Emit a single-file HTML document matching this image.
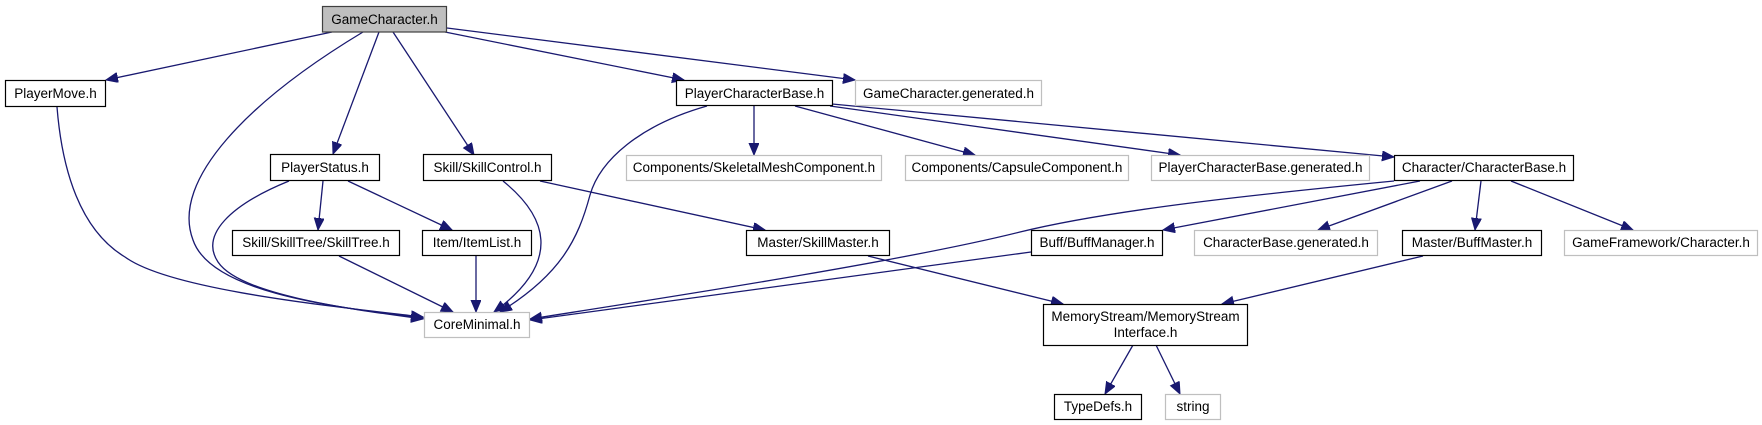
<!DOCTYPE html>
<html><head><meta charset="utf-8"><style>
html,body{margin:0;padding:0;background:#fff}
svg{display:block}
text{font-family:"Liberation Sans",Arial,sans-serif;font-size:13.5px;fill:#000;text-anchor:middle}
.e{fill:none;stroke:#191970;stroke-width:1.3}
.n{fill:#fff;stroke:#000;stroke-width:1.2}
.g{fill:#fff;stroke:#bfbfbf;stroke-width:1.2}
</style></head><body>
<svg width="1762" height="425" viewBox="0 0 1762 425" xmlns="http://www.w3.org/2000/svg">
<defs>
<marker id="a" markerUnits="userSpaceOnUse" markerWidth="14" markerHeight="12" refX="12" refY="5" orient="auto">
<path d="M0,0 L12,5 L0,10 z" fill="#191970" stroke="#191970"/>
</marker>
</defs>
<g marker-end="url(#a)">
<path class="e" d="M332,32 L106,80"/>
<path class="e" d="M363,32 C250,100 170,180 193,240 C210,290 320,306 423,318"/>
<path class="e" d="M57,107 C62,170 80,230 125,257 C170,290 330,306 423,317"/>
<path class="e" d="M379,32 L333,154"/>
<path class="e" d="M393,32 L474,155"/>
<path class="e" d="M445,32 L684,80"/>
<path class="e" d="M447,28 L855,80"/>
<path class="e" d="M289,181 C230,205 200,235 218,262 C240,295 350,309 423,319"/>
<path class="e" d="M323,181 L318,230"/>
<path class="e" d="M348,181 L452,230"/>
<path class="e" d="M339,256 L453,312"/>
<path class="e" d="M476,256 L476,312"/>
<path class="e" d="M503,181 C545,215 565,260 494,312"/>
<path class="e" d="M540,181 L765,230"/>
<path class="e" d="M707,106 C640,125 600,160 590,195 C578,240 560,275 500,312"/>
<path class="e" d="M754,106 L754,155"/>
<path class="e" d="M795,106 L975,155"/>
<path class="e" d="M830,106 L1180,155"/>
<path class="e" d="M832,104 L1394,157"/>
<path class="e" d="M1394,181 C1250,195 1110,210 1020,232 C900,262 650,300 530,319"/>
<path class="e" d="M1420,181 L1163,230"/>
<path class="e" d="M1031,252 L530,320"/>
<path class="e" d="M1452,181 L1318,230"/>
<path class="e" d="M1481,181 L1475,230"/>
<path class="e" d="M1511,181 L1633,230"/>
<path class="e" d="M868,256 L1063,304"/>
<path class="e" d="M1423,256 L1222,304"/>
<path class="e" d="M1133,345 L1105,394"/>
<path class="e" d="M1156,345 L1180,394"/>
</g>
<rect x="322.5" y="6.5" width="124" height="25.5" fill="#bfbfbf" stroke="#404040" stroke-width="1.2"/><text x="384.5" y="24">GameCharacter.h</text>
<rect class="n" x="5.5" y="80.5" width="100" height="26"/><text x="55.5" y="98">PlayerMove.h</text>
<rect class="n" x="676.5" y="80.5" width="156" height="25"/><text x="754.5" y="98">PlayerCharacterBase.h</text>
<rect class="g" x="855.5" y="80.5" width="186" height="25"/><text x="948.5" y="98">GameCharacter.generated.h</text>
<rect class="n" x="270.5" y="154.5" width="109" height="26"/><text x="325" y="172">PlayerStatus.h</text>
<rect class="n" x="423.5" y="154.5" width="128" height="26"/><text x="487.5" y="172">Skill/SkillControl.h</text>
<rect class="g" x="626.5" y="155.5" width="255" height="25"/><text x="754" y="172">Components/SkeletalMeshComponent.h</text>
<rect class="g" x="905.5" y="155.5" width="223" height="25"/><text x="1017" y="172">Components/CapsuleComponent.h</text>
<rect class="g" x="1151.5" y="155.5" width="218" height="25"/><text x="1260.5" y="172">PlayerCharacterBase.generated.h</text>
<rect class="n" x="1394.5" y="155.5" width="179" height="25"/><text x="1484" y="172">Character/CharacterBase.h</text>
<rect class="n" x="232.5" y="230.5" width="167" height="25"/><text x="316" y="247">Skill/SkillTree/SkillTree.h</text>
<rect class="n" x="422.5" y="230.5" width="109" height="25"/><text x="477" y="247">Item/ItemList.h</text>
<rect class="n" x="746.5" y="230.5" width="143" height="25"/><text x="818" y="247">Master/SkillMaster.h</text>
<rect class="n" x="1031.5" y="230.5" width="131" height="25"/><text x="1097" y="247">Buff/BuffManager.h</text>
<rect class="g" x="1194.5" y="230.5" width="183" height="25"/><text x="1286" y="247">CharacterBase.generated.h</text>
<rect class="n" x="1402.5" y="230.5" width="139" height="25"/><text x="1472" y="247">Master/BuffMaster.h</text>
<rect class="g" x="1564.5" y="230.5" width="193" height="25"/><text x="1661" y="247">GameFramework/Character.h</text>
<rect class="g" x="424.5" y="312.5" width="105" height="25"/><text x="477" y="329">CoreMinimal.h</text>
<rect class="n" x="1043.5" y="304.5" width="204" height="41"/><text x="1145.5" y="321">MemoryStream/MemoryStream</text><text x="1145.5" y="337">Interface.h</text>
<rect class="n" x="1054.5" y="394.5" width="87" height="25"/><text x="1098" y="411">TypeDefs.h</text>
<rect class="g" x="1165.5" y="394.5" width="55" height="25"/><text x="1193" y="411">string</text>
</svg>
</body></html>
